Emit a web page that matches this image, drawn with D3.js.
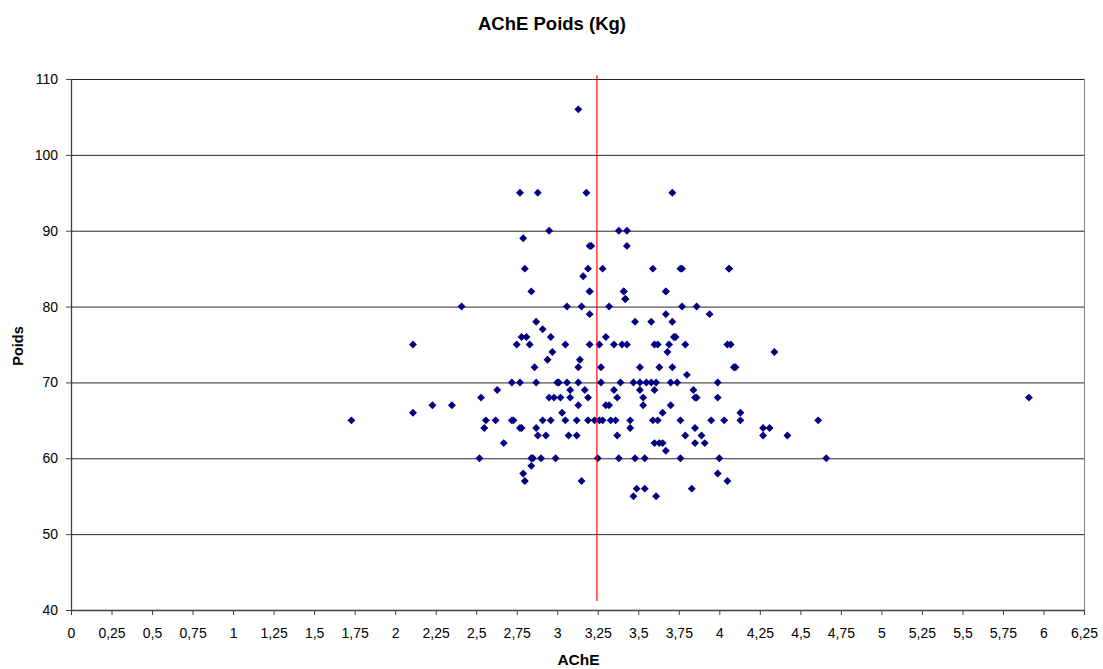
<!DOCTYPE html>
<html>
<head>
<meta charset="utf-8">
<script src="https://cdn.jsdelivr.net/npm/d3@7"></script>
<style>
  body { margin: 0; background: #fff; }
  text { font-family: "Liberation Sans", Arial, sans-serif; }
</style>
</head>
<body>
<div id="chart"></div>
<script>
// data: AChE (x) vs Poids (y)
var ache = [
  1.73, 2.11, 2.11, 2.23, 2.35, 2.41, 2.52, 2.53, 2.55, 2.56, 2.62, 2.63, 2.67,
  2.72, 2.73, 2.72, 2.75, 2.77, 2.77, 2.78, 2.78, 2.79, 2.80, 2.81, 2.83, 2.84, 2.84, 2.85,
  2.86, 2.87, 2.87, 2.87, 2.88, 2.90, 2.91, 2.91, 2.93, 2.94, 2.95, 2.96, 2.96, 2.97, 2.98,
  2.99, 3.00, 3.01, 3.02, 3.03, 3.05, 3.05, 3.06, 3.06, 3.07, 3.08, 3.08, 3.12, 3.12, 3.13,
  3.13, 3.13, 3.14, 3.15, 3.15, 3.17, 3.19, 3.19, 3.20, 3.20, 3.20, 3.23, 3.25, 3.26, 3.26,
  3.27, 3.27, 3.28, 3.30, 3.30, 3.32, 3.32, 3.33, 3.35, 3.35, 3.36, 3.37, 3.37, 3.38, 3.39,
  3.40, 3.41, 3.42, 3.43, 3.45, 3.45, 3.47, 3.47, 3.48, 3.48, 3.49, 3.51, 3.51, 3.51, 3.53,
  3.53, 3.54, 3.54, 3.55, 3.58, 3.58, 3.59, 3.60, 3.60, 3.60, 3.61, 3.61, 3.62, 3.62, 3.63,
  3.63, 3.65, 3.65, 3.67, 3.67, 3.67, 3.68, 3.69, 3.70, 3.70, 3.71, 3.71, 3.72, 3.73, 3.74,
  3.76, 3.76, 3.77, 3.77, 3.79, 3.79, 3.80, 3.83, 3.84, 3.85, 3.85, 3.85, 3.86, 3.86, 3.89,
  3.91, 3.94, 3.95, 3.99, 3.99, 3.99, 4.00, 4.03, 4.05, 4.05, 4.06, 4.07, 4.09, 4.10, 4.13,
  4.13, 4.27, 4.27, 4.31, 4.34, 4.42, 4.61, 4.66, 5.91,
  // upper part
  2.77, 2.79, 2.80, 2.88, 2.95, 3.13, 3.16, 3.18, 3.19, 3.20, 3.21, 3.28, 3.38, 3.43, 3.43,
  3.59, 3.71, 3.76, 4.06, 2.84, 3.20, 3.41, 3.42, 3.67
];
var poids = [
  65, 75, 66, 67, 67, 80, 60, 68, 64, 65, 65, 69, 62,
  70, 65, 65, 75, 70, 64, 76, 64, 58, 57, 76, 75, 60, 59, 60,
  72, 78, 70, 64, 63, 60, 77, 65, 63, 73, 68, 76, 65, 74, 68,
  60, 70, 70, 68, 66, 75, 65, 80, 70, 63, 69, 68, 65, 63, 72,
  70, 67, 73, 80, 57, 69, 68, 65, 82, 79, 75, 65, 60, 75, 65,
  72, 70, 65, 76, 67, 80, 67, 65, 75, 69, 65, 68, 63, 60, 70,
  75, 82, 81, 75, 65, 64, 70, 55, 78, 60, 56, 72, 70, 69, 68,
  67, 56, 60, 70, 78, 70, 65, 75, 69, 62, 70, 55, 75, 65, 72,
  62, 66, 62, 82, 79, 61, 74, 75, 70, 67, 78, 72, 76, 76, 70,
  65, 60, 80, 85, 75, 63, 71, 56, 69, 64, 68, 62, 80, 68, 63,
  62, 79, 65, 70, 68, 58, 60, 65, 75, 57, 85, 75, 72, 72, 66,
  65, 64, 63, 64, 74, 63, 65, 60, 68,
  95, 89, 85, 95, 90, 106, 84, 95, 85, 88, 88, 85, 90, 90, 88,
  85, 95, 85, 85, 82, 82, 82, 81, 82
];
var xTicks = d3.range(0, 6.26, 0.25);
var yTicks = [40, 50, 60, 70, 80, 90, 100, 110];
var meanAChE = 3.245;
var meanLineY = [41.2, 110.5];

var margin = {top: 79, right: 19, bottom: 59, left: 71},
    width = 1103 - margin.left - margin.right,
    height = 669 - margin.top - margin.bottom;

var svg = d3.select("#chart")
  .append("svg")
    .attr("width", 1103)
    .attr("height", 669);

var g = svg.append("g")
    .attr("transform", "translate(" + margin.left + "," + margin.top + ")");

var x = d3.scaleLinear().domain([0, 6.25]).range([0, width]);
var y = d3.scaleLinear().domain([40, 110]).range([height, 0]);

var fmt = function(d) { return String(+d.toFixed(2)).replace(".", ","); };

// gridlines
g.append("g")
  .selectAll("line")
  .data(yTicks.slice(1))
  .enter()
  .append("line")
    .attr("x1", 0)
    .attr("x2", width)
    .attr("y1", d => y(d) + 0.5)
    .attr("y2", d => y(d) + 0.5)
    .attr("stroke", "#000")
    .attr("stroke-opacity", 0.85)
    .attr("stroke-width", 1);

// right border
g.append("line")
  .attr("x1", width + 0.5).attr("x2", width + 0.5)
  .attr("y1", 0).attr("y2", height)
  .attr("stroke", "#808080");

// axes
var xAxis = g.append("g")
  .attr("transform", "translate(0," + height + ")")
  .call(d3.axisBottom(x).tickValues(xTicks).tickFormat(fmt).tickSize(5).tickSizeOuter(0));
var yAxis = g.append("g")
  .call(d3.axisLeft(y).tickValues(yTicks).tickSize(5).tickSizeOuter(0));

[xAxis, yAxis].forEach(function(a) {
  a.select(".domain").attr("stroke", "#404040").attr("stroke-width", 1.3);
  a.selectAll(".tick line").attr("stroke", "#404040");
  a.selectAll("text").attr("font-size", 14).attr("fill", "#000")
    .attr("font-family", "'Liberation Sans', Arial, sans-serif");
});
xAxis.selectAll("text").attr("dy", "1.43em");
yAxis.selectAll("text").attr("x", -13);

// points
var pts = ache.map((d, i) => ({x: d, y: poids[i]}));
g.append("g")
  .selectAll("path")
  .data(pts)
  .enter()
  .append("path")
    .attr("d", d3.symbol().type(d3.symbolDiamond2).size(40))
    .attr("transform", d => "translate(" + x(d.x) + "," + y(d.y) + ")")
    .attr("fill", "#000080");

// mean line
g.append("line")
  .attr("x1", x(meanAChE)).attr("x2", x(meanAChE))
  .attr("y1", y(meanLineY[1])).attr("y2", y(meanLineY[0]))
  .attr("stroke", "#ff0000")
  .attr("stroke-width", 1.2);

// titles
svg.append("text")
  .attr("x", 552).attr("y", 29.5)
  .attr("text-anchor", "middle")
  .attr("font-size", 18.5).attr("font-weight", "bold")
  .text("AChE Poids (Kg)");

svg.append("text")
  .attr("transform", "translate(23,346) rotate(-90)")
  .attr("text-anchor", "middle")
  .attr("font-size", 14.5).attr("font-weight", "bold")
  .text("Poids");

svg.append("text")
  .attr("x", 578.5).attr("y", 665)
  .attr("text-anchor", "middle")
  .attr("font-size", 15.5).attr("font-weight", "bold")
  .text("AChE");
</script>
</body>
</html>
